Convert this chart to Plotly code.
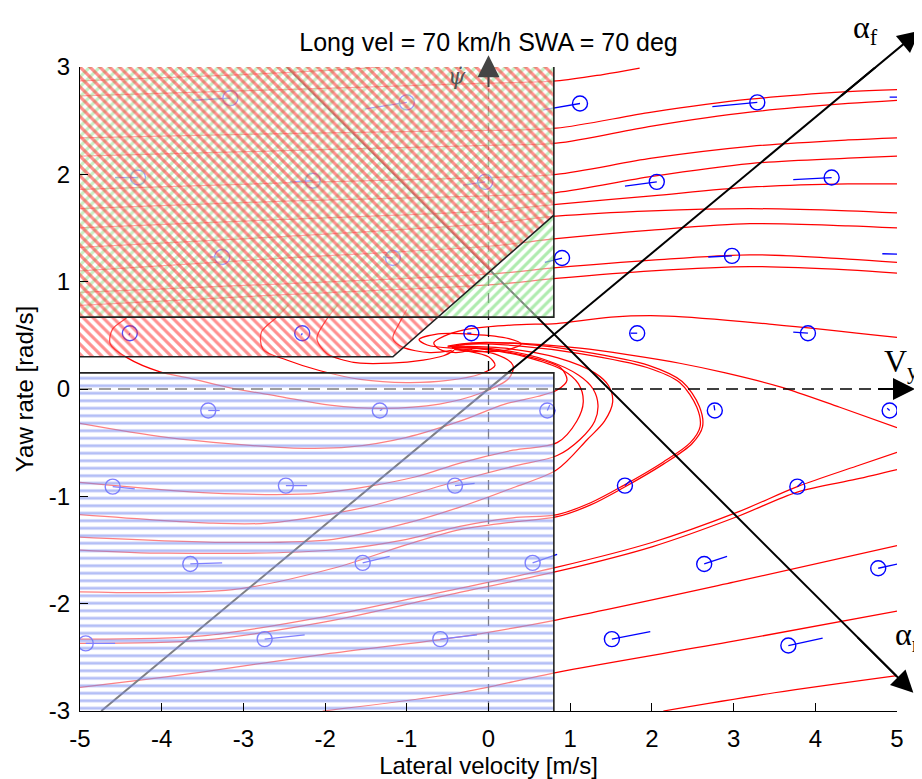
import plotly.graph_objects as go

# ---------------- axes ----------------
x_range = [-5, 5]
y_range = [-3, 3]
x_ticks = [-5, -4, -3, -2, -1, 0, 1, 2, 3, 4, 5]
x_tick_labels = ["-5", "-4", "-3", "-2", "-1", "0", "1", "2", "3", "4", "5"]
y_ticks = [-3, -2, -1, 0, 1, 2, 3]
y_tick_labels = ["-3", "-2", "-1", "0", "1", "2", "3"]
title_text = "Long vel = 70 km/h SWA = 70 deg"
x_title = "Lateral velocity [m/s]"
y_title = "Yaw rate [rad/s]"

# ---------------- hatched regions ----------------
green_x = [-5, 0.8, 0.8, -5]
green_y = [0.67, 0.67, 3.0, 3.0]
red_x = [-5, -1.17, 0.8, 0.8, -5]
red_y = [0.30, 0.30, 1.62, 3.0, 3.0]
blue_x = [-5, 0.8, 0.8, -5]
blue_y = [-3.0, -3.0, 0.15, 0.15]

# ---------------- reference axes (alpha_f, alpha_r, Vy, psi-dot) ----------------
alpha_f_x = [-4.74, 4.74]
alpha_f_y = [-3.0, 3.0]
alpha_f_tail = (4.3, 2.72)
alpha_f_tip = (5.28, 3.34)
alpha_r_x = [-2.47, 5.0]
alpha_r_y = [3.0, -2.68]
alpha_r_tail = (4.5, -2.30)
alpha_r_tip = (5.2, -2.83)
vy_x = [-5, 5]
vy_y = [0, 0]
vy_tail = (4.75, 0)
vy_tip = (5.22, 0)
psi_x = [0, 0]
psi_y = [-3, 3]
psi_tail = (0, 2.8)
psi_tip = (0, 3.11)

# ---------------- streamlines (x, y) ----------------
sl_top0 = [(-5, 2.87), (-3, 2.93), (-1.5, 2.99), (-1.2, 3.01)]
sl_top_a = [(-5, 2.73), (-2.5, 2.79), (0, 2.85), (0.83, 2.87), (1.4, 2.93), (1.85, 2.99)]
sl_top_b = [(-5, 2.34), (-2.5, 2.38), (0, 2.41), (0.83, 2.43), (2.0, 2.58), (3.2, 2.70), (4.4, 2.77), (5, 2.79)]
sl_top_c = [(-5, 2.17), (-2.5, 2.22), (0, 2.27), (0.83, 2.29), (2.0, 2.45), (3.2, 2.58), (4.4, 2.66), (5, 2.69)]
sl_top_d = [(-5, 1.86), (-2.5, 1.92), (0, 1.97), (0.83, 2.00), (2.0, 2.15), (3.2, 2.26), (4.4, 2.32), (5, 2.34)]
sl_top_e = [(-5, 1.68), (-2.5, 1.75), (0, 1.80), (0.83, 1.83), (2.0, 1.98), (3.2, 2.10), (4.4, 2.15), (5, 2.17)]
sl_top_e2 = [(-5, 1.50), (-2.5, 1.58), (0, 1.66), (0.83, 1.72), (2.0, 1.80), (3.2, 1.88), (4.4, 1.91), (5, 1.91)]
sl_top_f = [(-5, 1.32), (-2.5, 1.42), (0, 1.54), (0.83, 1.61), (2.0, 1.66), (3.2, 1.68), (4.4, 1.66), (5, 1.64)]
sl_top_g = [(-5, 1.10), (-2.5, 1.22), (0, 1.33), (0.83, 1.40), (2.0, 1.48), (3.2, 1.54), (4.4, 1.52), (5, 1.50)]
sl_top_h = [(-5, 0.90), (-2.5, 0.98), (0, 1.07), (0.83, 1.13), (2.0, 1.20), (3.2, 1.25), (4.4, 1.21), (5, 1.18)]
sl_top_i = [(-5, 0.78), (-2.5, 0.88), (0, 0.97), (0.83, 1.03), (2.0, 1.10), (3.2, 1.14), (4.4, 1.11), (5, 1.08)]
sl_j = [(5, 0.48), (3.5, 0.60), (2.2, 0.68), (1.5, 0.67), (0.83, 0.61), (0.4, 0.60), (0.0, 0.58),
        (-0.3, 0.55), (-0.55, 0.49), (-0.67, 0.43), (-0.6, 0.37), (-0.4, 0.34), (-0.2, 0.37)]
sl_right_in = [(5, -0.36), (4.3, -0.17), (3.57, 0.02), (2.9, 0.15), (2.34, 0.24), (1.7, 0.32),
               (1.12, 0.38), (0.5, 0.42), (0.0, 0.43), (-0.35, 0.41)]
sl_loop_c4 = [(-5, -0.32), (-3.94, -0.45), (-2.39, -0.55), (-1.7, -0.54), (-1.0, -0.45), (-0.35, -0.30),
              (0.2, -0.14), (0.6, -0.07), (0.84, -0.01), (0.96, 0.08), (0.88, 0.20), (0.5, 0.30),
              (0.0, 0.37), (-0.45, 0.39)]
sl_loop_c3 = [(-5, -0.87), (-3.37, -0.97), (-2.06, -0.97), (-0.9, -0.82), (-0.35, -0.69), (0.3, -0.57),
              (0.84, -0.50), (1.08, -0.30), (1.16, -0.12), (1.10, 0.05), (0.9, 0.18), (0.45, 0.30),
              (-0.05, 0.37), (-0.45, 0.39)]
sl_loop_c2b = [(-5, -1.17), (-3.37, -1.25), (-2.71, -1.25), (-1.5, -1.10), (-0.35, -0.85), (0.3, -0.72),
               (0.84, -0.62), (1.12, -0.47), (1.30, -0.30), (1.34, -0.15), (1.28, 0.0), (1.10, 0.13),
               (0.7, 0.27), (0.1, 0.37), (-0.45, 0.39)]
sl_loop_c2 = [(-5, -1.38), (-3.13, -1.43), (-1.9, -1.40), (-1.0, -1.25), (-0.35, -1.10), (0.3, -0.92),
              (0.84, -0.75), (1.21, -0.47), (1.42, -0.30), (1.52, -0.12), (1.47, 0.03), (1.30, 0.15),
              (0.85, 0.29), (0.2, 0.38), (-0.45, 0.40)]
sl_loop_c1a = [(-5, -1.50), (-3.94, -1.53), (-1.9, -1.50), (-1.0, -1.40), (-0.35, -1.28), (0.3, -1.20),
               (0.84, -1.17), (1.25, -1.06), (1.65, -0.90), (2.14, -0.68), (2.47, -0.50), (2.59, -0.35),
               (2.55, -0.17), (2.34, 0.06), (1.94, 0.20), (1.12, 0.33), (0.39, 0.40), (-0.2, 0.42),
               (-0.5, 0.39)]
sl_loop_c1b = [(-5, -1.89), (-3.13, -1.87), (-1.9, -1.67), (-1.0, -1.45), (-0.35, -1.31), (0.3, -1.24),
               (0.84, -1.19), (1.25, -1.08), (1.65, -0.92), (2.14, -0.70), (2.49, -0.51), (2.62, -0.35),
               (2.58, -0.16), (2.37, 0.07), (1.96, 0.22), (1.14, 0.35), (0.4, 0.42), (-0.2, 0.43),
               (-0.5, 0.40)]
sl_red_a = [(-4.3, 0.78), (-4.42, 0.67), (-4.6, 0.56), (-4.63, 0.42), (-4.42, 0.29), (-4.02, 0.16),
            (-3.65, 0.10), (-3.16, 0.01), (-2.55, -0.07), (-1.94, -0.15), (-1.3, -0.18), (-0.6, -0.14),
            (-0.1, -0.04), (0.25, 0.10), (0.3, 0.22), (0.1, 0.32), (-0.45, 0.38)]
sl_red_b = [(-2.45, 0.78), (-2.59, 0.67), (-2.78, 0.53), (-2.76, 0.37), (-2.47, 0.27), (-2.06, 0.17),
            (-1.57, 0.09), (-1.0, 0.06), (-0.5, 0.08), (-0.1, 0.14), (0.08, 0.22), (0.0, 0.30),
            (-0.3, 0.36), (-0.45, 0.38)]
sl_red_c = [(-1.85, 0.78), (-1.98, 0.65), (-2.1, 0.47), (-1.98, 0.33), (-1.78, 0.27), (-1.57, 0.24),
            (-1.2, 0.24), (-0.8, 0.27), (-0.55, 0.31), (-0.42, 0.36)]
sl_red_d = [(-1.0, 0.74), (-1.1, 0.60), (-1.17, 0.47), (-1.05, 0.39), (-0.72, 0.34), (-0.45, 0.36)]
sl_focus = [(-0.45, 0.38), (-0.75, 0.41), (-0.85, 0.46), (-0.65, 0.51), (-0.2, 0.51), (0.25, 0.47),
            (0.4, 0.42), (0.2, 0.36), (-0.2, 0.35), (-0.42, 0.37)]
sl_low_p1 = [(-5, -2.33), (-3.5, -2.30), (-2.0, -2.12), (-0.5, -1.88), (0.84, -1.66), (2.0, -1.43),
             (3.04, -1.15), (3.78, -0.91), (4.5, -0.72), (5, -0.59)]
sl_low_p2 = [(-5, -2.37), (-3.5, -2.34), (-2.0, -2.17), (-0.5, -1.92), (0.84, -1.70), (2.0, -1.47),
             (3.04, -1.19), (3.78, -0.96), (4.5, -0.84), (5, -0.75)]
sl_low_q1 = [(-5, -2.78), (-3.53, -2.64), (-2.0, -2.47), (-0.35, -2.31), (0.84, -2.15), (3.0, -1.80), (5, -1.46)]
sl_low_q2 = [(-2.03, -3.0), (-0.35, -2.83), (0.84, -2.64), (3.0, -2.35), (5, -2.07)]
sl_low_q3 = [(2.14, -3.0), (3.5, -2.83), (5, -2.67)]

streamlines = [sl_top0, sl_top_a, sl_top_b, sl_top_c, sl_top_d, sl_top_e, sl_top_e2, sl_top_f,
               sl_top_g, sl_top_h, sl_top_i, sl_j, sl_right_in, sl_loop_c4, sl_loop_c3, sl_loop_c2b,
               sl_loop_c2, sl_loop_c1a, sl_loop_c1b, sl_red_a, sl_red_b, sl_red_c, sl_red_d, sl_focus,
               sl_low_p1, sl_low_p2, sl_low_q1, sl_low_q2, sl_low_q3]

# ---------------- initial points (circles) and their direction tails ----------------
pt_x = [-3.16, -1.00, 1.12, 3.29, 5.43,
        -4.29, -2.15, -0.04, 2.06, 4.20,
        -3.26, -1.17, 0.90, 2.98, 5.34,
        -4.39, -2.28, -0.21, 1.82, 3.91,
        -3.43, -1.33, 0.72, 2.77, 4.91,
        -4.60, -2.48, -0.41, 1.67, 3.78,
        -3.65, -1.54, 0.54, 2.64, 4.77,
        -4.93, -2.74, -0.59, 1.51, 3.67]
pt_y = [2.71, 2.67, 2.66, 2.67, 2.72,
        1.97, 1.94, 1.93, 1.93, 1.97,
        1.23, 1.22, 1.22, 1.24, 1.25,
        0.52, 0.52, 0.52, 0.52, 0.52,
        -0.20, -0.20, -0.20, -0.20, -0.20,
        -0.91, -0.90, -0.90, -0.90, -0.91,
        -1.63, -1.62, -1.62, -1.63, -1.67,
        -2.37, -2.33, -2.33, -2.33, -2.39]
tail_x = [-3.62, -1.51, 0.67, 2.74, 4.91,
          -4.57, -2.43, -0.31, 1.67, 3.73,
          -3.41, -1.29, 0.69, 2.69, 4.82,
          -4.40, -2.29, -0.26, 1.74, 3.73,
          -3.29, -1.30, 0.75, 2.76, 4.88,
          -4.33, -2.22, -0.17, 1.74, 3.85,
          -3.26, -1.21, 0.84, 2.92, 5.01,
          -4.57, -2.25, -0.14, 1.98, 4.09]
tail_y = [2.69, 2.61, 2.60, 2.63, 2.72,
          1.97, 1.93, 1.90, 1.89, 1.95,
          1.23, 1.23, 1.18, 1.23, 1.26,
          0.50, 0.50, 0.52, 0.52, 0.53,
          -0.20, -0.19, -0.15, -0.15, -0.18,
          -0.93, -0.90, -0.88, -0.85, -0.86,
          -1.62, -1.56, -1.54, -1.56, -1.63,
          -2.37, -2.29, -2.29, -2.26, -2.32]

# ---------------- build figure ----------------
fig = go.Figure()

for sl in streamlines:
    fig.add_trace(go.Scatter(
        x=[p[0] for p in sl], y=[p[1] for p in sl], mode="lines",
        line=dict(color="#ff0000", width=1.25, shape="spline", smoothing=0.9),
        hoverinfo="skip", showlegend=False))

# reference axes drawn under the hatching
fig.add_trace(go.Scatter(x=alpha_f_x, y=alpha_f_y, mode="lines",
                         line=dict(color="black", width=2), hoverinfo="skip", showlegend=False))
fig.add_trace(go.Scatter(x=alpha_r_x, y=alpha_r_y, mode="lines",
                         line=dict(color="black", width=2), hoverinfo="skip", showlegend=False))
fig.add_trace(go.Scatter(x=vy_x, y=vy_y, mode="lines",
                         line=dict(color="black", width=1.5, dash="12px,7px"), hoverinfo="skip", showlegend=False))
fig.add_trace(go.Scatter(x=psi_x, y=psi_y, mode="lines",
                         line=dict(color="black", width=1.3, dash="10px,7px"), hoverinfo="skip", showlegend=False))

# tails
tx, ty = [], []
for x0, y0, x1, y1 in zip(pt_x, pt_y, tail_x, tail_y):
    tx += [x0, x1, None]
    ty += [y0, y1, None]
fig.add_trace(go.Scatter(x=tx, y=ty, mode="lines", line=dict(color="#0000ff", width=1.3),
                         hoverinfo="skip", showlegend=False))
fig.add_trace(go.Scatter(x=pt_x, y=pt_y, mode="markers",
                         marker=dict(symbol="circle-open", size=15, color="#0000ff", line=dict(width=1.4)),
                         hoverinfo="skip", showlegend=False))

# hatched regions (semi-transparent white background fades what lies beneath)
fig.add_trace(go.Scatter(x=green_x, y=green_y, mode="lines", fill="toself",
                         line=dict(width=0), fillcolor="rgba(255,255,255,0.5)",
                         fillpattern=dict(shape="/", fgcolor="#5fd85f", bgcolor="rgba(255,255,255,0.5)",
                                          size=7, solidity=0.45),
                         hoverinfo="skip", showlegend=False))
fig.add_trace(go.Scatter(x=red_x, y=red_y, mode="lines", fill="toself",
                         line=dict(width=0), fillcolor="rgba(255,255,255,0.3)",
                         fillpattern=dict(shape="\\", fgcolor="#ff2020", bgcolor="rgba(255,255,255,0.3)",
                                          size=7, solidity=0.45),
                         hoverinfo="skip", showlegend=False))
fig.add_trace(go.Scatter(x=blue_x, y=blue_y, mode="lines", fill="toself",
                         line=dict(width=0), fillcolor="rgba(255,255,255,0.5)",
                         fillpattern=dict(shape="-", fgcolor="#6a80ee", bgcolor="rgba(255,255,255,0.5)",
                                          size=7.5, solidity=0.38),
                         hoverinfo="skip", showlegend=False))

# region borders
fig.add_trace(go.Scatter(x=green_x[:3], y=green_y[:3], mode="lines",
                         line=dict(color="#222", width=1.6), hoverinfo="skip", showlegend=False))
fig.add_trace(go.Scatter(x=red_x[:3], y=red_y[:3], mode="lines",
                         line=dict(color="#222", width=1.6), hoverinfo="skip", showlegend=False))
fig.add_trace(go.Scatter(x=blue_x[1:], y=blue_y[1:], mode="lines",
                         line=dict(color="#222", width=1.6), hoverinfo="skip", showlegend=False))

# arrow heads
arrows = [(alpha_f_tail, alpha_f_tip, "black"), (alpha_r_tail, alpha_r_tip, "black"),
          (vy_tail, vy_tip, "black"), (psi_tail, psi_tip, "#444444")]
annotations = []
for tail, tip, col in arrows:
    annotations.append(dict(x=tip[0], y=tip[1], ax=tail[0], ay=tail[1], xref="x", yref="y",
                            axref="x", ayref="y", text="", showarrow=True, arrowhead=2,
                            arrowsize=2.2, arrowwidth=2, arrowcolor=col, standoff=0))

serif = "Liberation Serif, Times New Roman, serif"
annotations += [
    dict(text="α<sub>f</sub>", xref="paper", yref="paper", x=0.961, y=1.059, showarrow=False,
         xanchor="center", yanchor="middle", font=dict(family=serif, size=32, color="black")),
    dict(text="V<sub>y</sub>", xref="paper", yref="paper", x=1.006, y=0.540, showarrow=False,
         xanchor="center", yanchor="middle", font=dict(family=serif, size=32, color="black")),
    dict(text="α<sub>r</sub>", xref="paper", yref="paper", x=1.013, y=0.115, showarrow=False,
         xanchor="center", yanchor="middle", font=dict(family=serif, size=32, color="black")),
    dict(text="<i>ψ̇</i>", xref="paper", yref="paper", x=0.461, y=0.985, showarrow=False,
         xanchor="center", yanchor="middle",
         font=dict(family="DejaVu Serif, serif", size=22, color="#555555")),
]

sans = "Liberation Sans, Arial, sans-serif"
# the page body adds an 8px offset, so the figure is sized to end exactly at the window edges
fig.update_layout(
    width=914, height=771,
    margin=dict(l=72, r=25, t=59, b=68, autoexpand=False),
    paper_bgcolor="white", plot_bgcolor="white",
    title=dict(text=title_text, x=0.5, xref="paper", xanchor="center",
               y=1 - 34 / 771, yref="container", yanchor="middle",
               font=dict(family=sans, size=25, color="black")),
    annotations=annotations,
    font=dict(family=sans, size=24, color="black"),
)
fig.update_xaxes(range=x_range, tickvals=x_ticks, ticktext=x_tick_labels, ticks="inside", ticklen=8,
                 tickcolor="black", showline=True, linecolor="black", linewidth=1.2, showgrid=False,
                 zeroline=False, automargin=False, ticklabelstandoff=6,
                 title=dict(text=x_title, font=dict(size=24), standoff=6),
                 tickfont=dict(size=24))
fig.update_yaxes(range=y_range, tickvals=y_ticks, ticktext=y_tick_labels, ticks="inside", ticklen=8,
                 tickcolor="black", showline=True, linecolor="black", linewidth=1.2, showgrid=False,
                 zeroline=False, automargin=False, ticklabelstandoff=4,
                 title=dict(text=y_title, font=dict(size=24), standoff=8),
                 tickfont=dict(size=24))

fig.write_html("out.html")
